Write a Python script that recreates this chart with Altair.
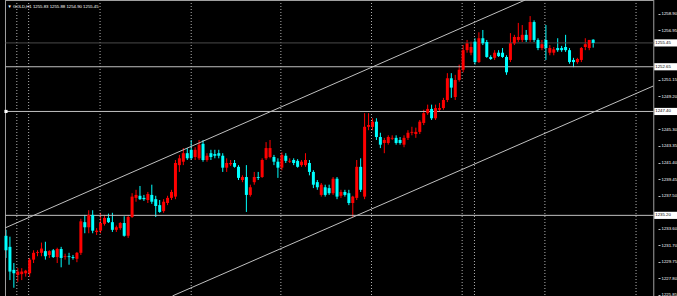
import altair as alt
import pandas as pd

# ---- candle data (GOLD, H1), oldest -> newest ----
opens = [1232.8,1231.5,1228.8,1228.2,1228.3,1228.4,1228.4,1230.0,1230.8,1230.8,
         1231.0,1230.55,1231.1,1230.3,1231.25,1230.3,1230.4,1230.3,1230.1,1230.8,
         1234.4,1233.8,1235.25,1233.25,1233.4,1234.2,1234.9,1234.4,1233.5,1233.7,
         1234.3,1232.8,1235.0,1237.25,1237.5,1237.25,1237.0,1237.6,1237.1,1236.4,
         1235.7,1236.65,1237.25,1237.4,1241.1,1241.5,1242.5,1242.9,1242.05,1241.9,
         1243.6,1241.7,1242.5,1242.4,1242.5,1242.2,1240.8,1241.2,1241.35,1240.9,
         1239.35,1239.7,1237.6,1239.1,1239.7,1239.7,1241.9,1242.05,1242.05,1241.5,
         1240.8,1242.2,1241.5,1241.7,1241.6,1241.1,1241.1,1241.35,1240.3,1239.1,
         1237.6,1238.5,1238.4,1237.8,1239.5,1237.5,1237.95,1237.8,1236.65,1237.25,
         1240.9,1237.4,1245.6,1245.6,1246.2,1244.4,1243.7,1243.7,1244.2,1244.3,
         1244.05,1243.5,1244.3,1244.9,1244.75,1245.0,1246.05,1247.2,1247.7,1246.6,
         1247.6,1247.8,1248.75,1251.3,1249.1,1251.1,1252.3,1254.6,1254.3,1255.6,
         1253.2,1256.0,1255.56,1253.8,1253.7,1254.3,1254.3,1253.8,1253.45,1255.4,
         1255.8,1255.8,1256.4,1255.8,1257.9,1255.8,1254.85,1255.8,1254.3,1254.3,
         1254.85,1254.85,1254.97,1254.6,1253.45,1253.2,1253.45,1254.97,1254.85,1255.83]
highs = [1233.5,1232.7,1229.6,1229.0,1229.0,1228.8,1230.2,1231.1,1231.1,1232.0,
         1232.1,1231.1,1231.25,1231.4,1231.5,1230.7,1230.8,1230.55,1230.9,1234.8,
         1235.25,1235.8,1235.8,1233.7,1235.5,1235.25,1235.4,1235.5,1234.0,1234.4,
         1235.1,1235.25,1237.8,1238.2,1238.65,1237.6,1237.95,1238.8,1237.5,1237.0,
         1237.1,1237.5,1238.2,1241.7,1242.3,1243.1,1243.1,1244.05,1243.2,1244.05,
         1244.05,1242.5,1242.9,1242.9,1242.9,1242.5,1241.9,1241.7,1241.7,1241.1,
         1239.9,1241.1,1238.8,1240.3,1240.3,1241.9,1243.8,1244.05,1242.3,1241.9,
         1242.6,1242.5,1241.9,1241.9,1241.8,1241.7,1242.5,1241.7,1240.5,1239.35,
         1239.0,1238.8,1238.8,1239.7,1239.7,1238.2,1238.2,1238.2,1237.5,1241.7,
         1241.9,1247.2,1247.2,1246.6,1246.6,1244.9,1244.3,1244.6,1244.6,1244.6,
         1244.4,1244.6,1245.2,1245.6,1245.5,1246.4,1247.6,1248.2,1248.2,1248.2,
         1248.4,1249.0,1251.9,1251.9,1251.7,1252.9,1255.2,1255.8,1255.6,1256.0,
         1256.7,1256.97,1255.8,1254.0,1254.6,1254.6,1254.85,1254.0,1256.6,1256.4,
         1257.8,1257.55,1256.97,1258.6,1258.1,1256.0,1255.8,1257.55,1255.2,1254.97,
         1256.0,1255.1,1256.4,1254.85,1253.7,1253.7,1254.97,1256.0,1255.8,1255.88]
lows = [1230.2,1227.6,1226.7,1227.4,1227.6,1228.0,1228.0,1229.6,1230.4,1230.4,
        1230.0,1230.2,1230.2,1229.6,1229.1,1230.0,1229.4,1230.0,1229.7,1230.55,
        1233.1,1233.1,1233.1,1232.9,1233.1,1234.0,1234.3,1233.25,1233.25,1233.5,
        1232.7,1232.55,1234.9,1236.8,1237.0,1236.9,1236.65,1236.55,1235.0,1235.5,
        1235.5,1236.4,1237.0,1237.1,1240.3,1241.1,1241.7,1241.7,1241.7,1241.7,
        1241.5,1241.5,1241.7,1241.9,1241.9,1240.3,1240.3,1241.0,1240.8,1239.35,
        1239.1,1235.6,1237.4,1238.8,1239.35,1239.6,1241.7,1241.9,1241.1,1239.6,
        1240.5,1241.35,1241.35,1241.1,1240.8,1240.9,1240.9,1239.9,1238.4,1238.2,
        1237.4,1237.4,1237.6,1237.6,1237.1,1237.25,1237.4,1236.4,1235.0,1237.0,
        1237.95,1237.1,1245.2,1245.2,1244.05,1243.1,1242.5,1243.5,1244.05,1243.5,
        1243.5,1243.2,1244.05,1244.6,1244.3,1244.75,1245.8,1247.0,1246.4,1246.4,
        1247.35,1247.6,1248.5,1249.0,1248.75,1250.9,1252.0,1254.3,1254.0,1252.9,
        1253.1,1255.2,1253.7,1253.45,1253.45,1253.8,1253.7,1251.7,1253.2,1255.2,
        1255.56,1255.56,1255.56,1255.56,1255.56,1254.6,1254.6,1253.45,1254.0,1254.0,
        1254.4,1254.4,1254.4,1253.0,1252.6,1253.0,1253.2,1254.6,1254.6,1254.90]
closes = [1231.1,1228.6,1228.4,1228.6,1228.6,1228.7,1230.0,1230.8,1230.9,1231.3,
          1230.4,1231.0,1230.3,1231.25,1230.2,1230.4,1230.3,1230.2,1230.8,1234.5,
          1233.8,1235.25,1233.4,1233.4,1234.3,1234.9,1234.4,1233.5,1233.8,1234.3,
          1232.8,1235.0,1237.4,1237.6,1237.1,1237.1,1237.7,1236.8,1236.3,1235.6,
          1236.8,1237.25,1237.95,1241.35,1241.9,1242.5,1241.9,1241.9,1242.9,1243.5,
          1241.7,1242.2,1242.05,1242.2,1242.2,1240.8,1241.35,1241.35,1240.9,1239.6,
          1239.7,1237.6,1238.5,1239.7,1239.6,1241.7,1243.1,1243.1,1241.5,1240.8,
          1242.3,1241.6,1241.6,1241.35,1240.9,1241.5,1241.7,1240.3,1238.8,1238.5,
          1238.8,1237.6,1237.8,1239.5,1237.4,1237.95,1237.6,1236.65,1237.4,1240.9,
          1238.2,1245.6,1245.8,1246.2,1244.4,1243.5,1244.05,1244.4,1244.3,1243.7,
          1243.7,1244.3,1244.9,1245.0,1245.0,1246.2,1247.2,1247.7,1246.6,1247.8,
          1247.8,1248.75,1251.3,1250.2,1251.1,1252.3,1254.6,1255.4,1254.97,1253.2,
          1256.0,1255.4,1253.8,1253.56,1254.3,1253.9,1253.8,1252.0,1255.4,1256.15,
          1256.15,1256.4,1255.8,1257.9,1255.8,1254.85,1255.3,1254.85,1254.85,1254.7,
          1254.6,1254.6,1254.6,1253.2,1253.2,1253.56,1254.85,1255.3,1255.8,1255.45]

header_symbol = ["\u25BC"]
header_text = ["GOLD,H1  1255.83 1255.88 1254.90 1255.45"]
axis_prices = [1258.90, 1256.95, 1251.15, 1249.20, 1245.30, 1243.35,
               1241.40, 1239.45, 1237.50, 1233.60, 1231.70, 1229.75,
               1227.80, 1225.85]
level_prices = [1252.65, 1247.40, 1235.20]
bid_price = [1255.45]
separators = [2.75, 5.75, 23.875, 47.0, 69.75, 92.75, 115.75, 118.875, 136.75, 159.875]
upper_x = [-0.25, 131.75]
upper_p = [1233.72, 1260.49]
lower_x = [42.25, 164.25]
lower_p = [1225.74, 1250.39]
label_box_x = [164.5, 172.5]
frame_left_x = [-0.125]
frame_right_x = [164.375]
frame_top_p = [1260.43]
header_pos_x = [0.4, 1.75]
header_pos_p = 1259.66

W, H = 677, 296
FONT = "Liberation Sans"
xs = alt.Scale(domain=[-0.25, 169.0], nice=False, zero=False)
ys = alt.Scale(domain=[1225.73, 1260.49], nice=False, zero=False)

price_axis = alt.Axis(
    orient="right", offset=-19, values=axis_prices, format=".2f", grid=False,
    domain=False, ticks=True, tickSize=2, tickColor="#c0c0c0",
    labelColor="#ffffff", labelFontSize=4.3, labelFont=FONT,
    labelPadding=1, labelOverlap=False, labelBound=False, title="")

def X(f):
    return alt.X(f, scale=xs, axis=None)

def Y(f):
    return alt.Y(f, scale=ys, axis=price_axis)

df = pd.DataFrame({"i": [float(k) for k in range(len(opens))], "o": opens, "h": highs,
                   "l": lows, "c": closes})
df["side"] = ["up" if c >= o else "down" for o, c in zip(opens, closes)]
col = alt.Color("side:N", scale=alt.Scale(domain=["up", "down"],
                range=["#ff0000", "#00ffff"]), legend=None)

base = alt.Chart(df)
wick = base.mark_rule(strokeWidth=1).encode(
    x=X("i:Q"), y=Y("l:Q"), y2="h:Q", color=col)
body = base.mark_bar(size=3).encode(
    x=X("i:Q"), y=Y("o:Q"), y2="c:Q", color=col)

sep = alt.Chart(pd.DataFrame({"x": separators})).mark_rule(
    color="#b0b0b0", strokeDash=[1, 2], strokeWidth=1).encode(x=X("x:Q"))

frame_v = alt.Chart(pd.DataFrame({"x": frame_left_x + frame_right_x})).mark_rule(
    color="#a0a0a0", strokeWidth=1).encode(x=X("x:Q"))
frame_t = alt.Chart(pd.DataFrame({"p": frame_top_p, "x0": frame_left_x,
                                  "x1": frame_right_x})).mark_rule(
    color="#a0a0a0", strokeWidth=1).encode(x=X("x0:Q"), x2="x1:Q", y=Y("p:Q"))

lev = alt.Chart(pd.DataFrame({"p": level_prices, "x0": frame_left_x * 3,
                              "x1": frame_right_x * 3})).mark_rule(
    color="#c0c0c0", strokeWidth=1).encode(x=X("x0:Q"), x2="x1:Q", y=Y("p:Q"))
bid = alt.Chart(pd.DataFrame({"p": bid_price, "x0": frame_left_x,
                              "x1": frame_right_x})).mark_rule(
    color="#4a4a4a", strokeWidth=1).encode(x=X("x0:Q"), x2="x1:Q", y=Y("p:Q"))

up_df = pd.DataFrame({"x": upper_x, "p": upper_p})
lo_df = pd.DataFrame({"x": lower_x, "p": lower_p})
upl = alt.Chart(up_df).mark_line(color="#c0c0c0", strokeWidth=1, clip=True).encode(
    x=X("x:Q"), y=Y("p:Q"))
lol = alt.Chart(lo_df).mark_line(color="#c0c0c0", strokeWidth=1, clip=True).encode(
    x=X("x:Q"), y=Y("p:Q"))

hl_df = pd.DataFrame({"p": level_prices + bid_price})
hl_df["lab"] = [f"{v:.2f}" for v in hl_df["p"]]
hl_df["xa"] = label_box_x[0]
hl_df["xb"] = label_box_x[1]
hl_df["top"] = hl_df["p"] + 0.42
hl_df["bot"] = hl_df["p"] - 0.42
boxes = alt.Chart(hl_df).mark_rect(color="#ffffff").encode(
    x=X("xa:Q"), x2="xb:Q", y=Y("top:Q"), y2="bot:Q")
box_txt = alt.Chart(hl_df).mark_text(
    align="left", baseline="middle", fontSize=4.3, font=FONT,
    color="#000000", dx=1).encode(x=X("xa:Q"), y=Y("p:Q"), text="lab:N")

marker = alt.Chart(pd.DataFrame({"p": [1247.40], "x": [0.0]})).mark_point(
    shape="square", filled=True, size=10, color="#ffffff", opacity=1).encode(
    x=X("x:Q"), y=Y("p:Q"))

hdr_df = pd.DataFrame({"t": header_symbol + header_text, "x": header_pos_x,
                       "p": [header_pos_p] * 2})
hdr = alt.Chart(hdr_df).mark_text(
    align="left", baseline="middle", fontSize=4.3, font=FONT,
    color="#ffffff").encode(x=X("x:Q"), y=Y("p:Q"), text="t:N")

chart = alt.layer(wick, sep, frame_v, frame_t, lev, bid, upl, lol, body, marker,
                  boxes, box_txt, hdr
    ).properties(width=W, height=H, background="#000000", padding=0,
                 autosize=alt.AutoSizeParams(type="none")
    ).configure_view(fill="#000000", strokeWidth=0
    ).configure_axis(labelOverlap=False)

chart.save("out.html", embed_options={"renderer": "svg", "actions": False})
